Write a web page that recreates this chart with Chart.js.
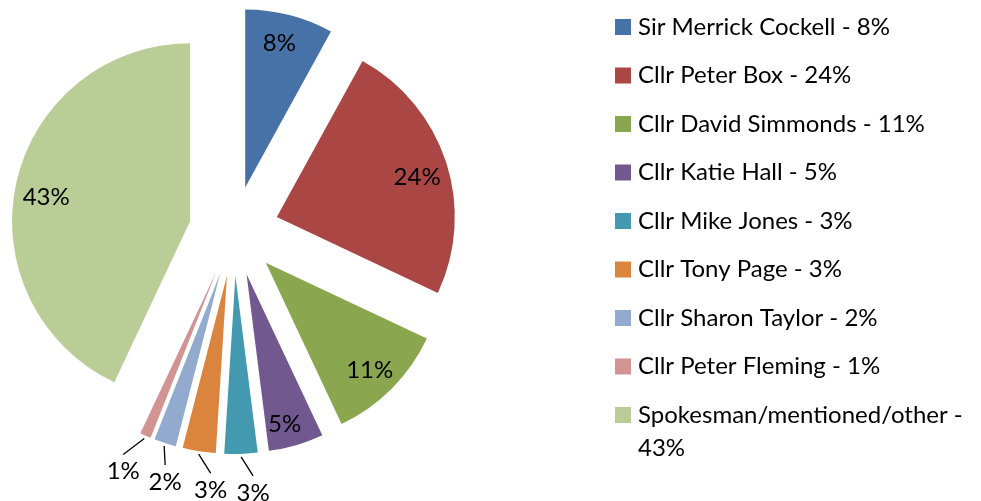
<!DOCTYPE html>
<html>
<head>
<meta charset="utf-8">
<script src="https://cdn.jsdelivr.net/npm/chart.js@4.4.0/dist/chart.umd.min.js"></script>
<style>
    html, body { margin: 0; padding: 0; background: #fff; }
    #contenedor { width: 981px; height: 501px; }
</style>
</head>
<body>
<div id="contenedor"><canvas id="graficaPastel" width="981" height="501"></canvas></div>
<script>
const nombres = [
    "Sir Merrick Cockell",
    "Cllr Peter Box",
    "Cllr David Simmonds",
    "Cllr Katie Hall",
    "Cllr Mike Jones",
    "Cllr Tony Page",
    "Cllr Sharon Taylor",
    "Cllr Peter Fleming",
    "Spokesman/mentioned/other"
];
const porcentajes = [8, 24, 11, 5, 3, 3, 2, 1, 43];
const colores = ['#4672A8', '#AA4744', '#8AA64F', '#71598F', '#4299B0', '#DB843D', '#93AACF', '#D19493', '#BACD97'];

// donde va cada etiqueta: dentro (fraccion del radio, giro en grados) o fuera con linea guia
const etiquetas = [
    { r: 0.83, giro: -1 }, { r: 0.82, giro: 2 }, { r: 0.84, giro: 1 }, { r: 0.87, giro: 2 },
    { guia: [12, 19] }, { guia: [12, 19] }, { guia: [1, 19] }, { guia: [-21, 16] },
    { r: 0.82, giro: -3 }
];

const separacion = 45;   // cuanto se separa cada porcion del centro
const fuente = '24px Lato';

function textoPct(i) {
    let total = porcentajes.reduce((a, b) => a + b, 0);
    return Math.round(porcentajes[i] / total * 100) + '%';
}

// dibuja cada porcion desplazada hacia afuera (pastel explotado)
const explotar = {
    id: 'explotar',
    beforeDatasetDraw(chart, args) {
        const ctx = chart.ctx;
        args.meta.data.forEach(arc => {
            let medio = (arc.startAngle + arc.endAngle) / 2;
            ctx.save();
            ctx.translate(Math.cos(medio) * separacion, Math.sin(medio) * separacion);
            arc.draw(ctx);
            ctx.restore();
        });
        return false;
    }
};

const rotulos = {
    id: 'rotulos',
    afterDatasetsDraw(chart) {
        const ctx = chart.ctx;
        const arcos = chart.getDatasetMeta(0).data;
        ctx.save();
        ctx.font = fuente;
        ctx.fillStyle = '#000';
        ctx.strokeStyle = '#000';
        ctx.lineWidth = 1.3;
        ctx.textAlign = 'center';
        ctx.textBaseline = 'middle';
        arcos.forEach((arc, i) => {
            let medio = (arc.startAngle + arc.endAngle) / 2;
            let cx = arc.x + Math.cos(medio) * separacion;
            let cy = arc.y + Math.sin(medio) * separacion;
            let e = etiquetas[i];
            if (e.r) {
                let d = arc.outerRadius * e.r;
                let ang = medio + e.giro * Math.PI / 180;
                ctx.fillText(textoPct(i), cx + Math.cos(ang) * d, cy + Math.sin(ang) * d);
            } else {
                let d = arc.outerRadius + 3;
                let x0 = cx + Math.cos(medio) * d;
                let y0 = cy + Math.sin(medio) * d;
                let x1 = x0 + e.guia[0];
                let y1 = y0 + e.guia[1];
                ctx.beginPath();
                ctx.moveTo(x0, y0);
                ctx.lineTo(x1, y1);
                ctx.stroke();
                ctx.fillText(textoPct(i), x1, y1 + 17);
            }
        });
        ctx.restore();
    }
};

const leyenda = {
    id: 'leyenda',
    afterDraw(chart) {
        const ctx = chart.ctx;
        const x = 615, y = 19, paso = 48.5, caja = 16, anchoMax = 340, interlinea = 33;
        ctx.save();
        ctx.font = fuente;
        ctx.textAlign = 'left';
        ctx.textBaseline = 'middle';
        chart.data.labels.forEach((nombre, i) => {
            let top = y + paso * i;
            ctx.fillStyle = colores[i];
            ctx.fillRect(x, top, caja, caja);
            ctx.fillStyle = '#000';
            let palabras = (nombre + ' - ' + textoPct(i)).split(' ');
            let lineas = [];
            let actual = '';
            palabras.forEach(p => {
                let prueba = actual ? actual + ' ' + p : p;
                if (ctx.measureText(prueba).width > anchoMax && actual) {
                    lineas.push(actual);
                    actual = p;
                } else {
                    actual = prueba;
                }
            });
            lineas.push(actual);
            lineas.forEach((l, j) => {
                ctx.fillText(l, x + 23, top + caja / 2 + j * interlinea);
            });
        });
        ctx.restore();
    }
};

const ctx = document.getElementById('graficaPastel').getContext('2d');
new Chart(ctx, {
    type: 'pie',
    data: {
        labels: nombres,
        datasets: [{
            data: porcentajes,
            backgroundColor: colores,
            borderWidth: 0
        }]
    },
    options: {
        responsive: false,
        animation: false,
        events: [],
        radius: 178,
        layout: { padding: { left: 0, top: 0, right: 513, bottom: 39 } },
        plugins: {
            legend: { display: false },
            tooltip: { enabled: false }
        }
    },
    plugins: [explotar, rotulos, leyenda]
});
</script>
</body>
</html>
